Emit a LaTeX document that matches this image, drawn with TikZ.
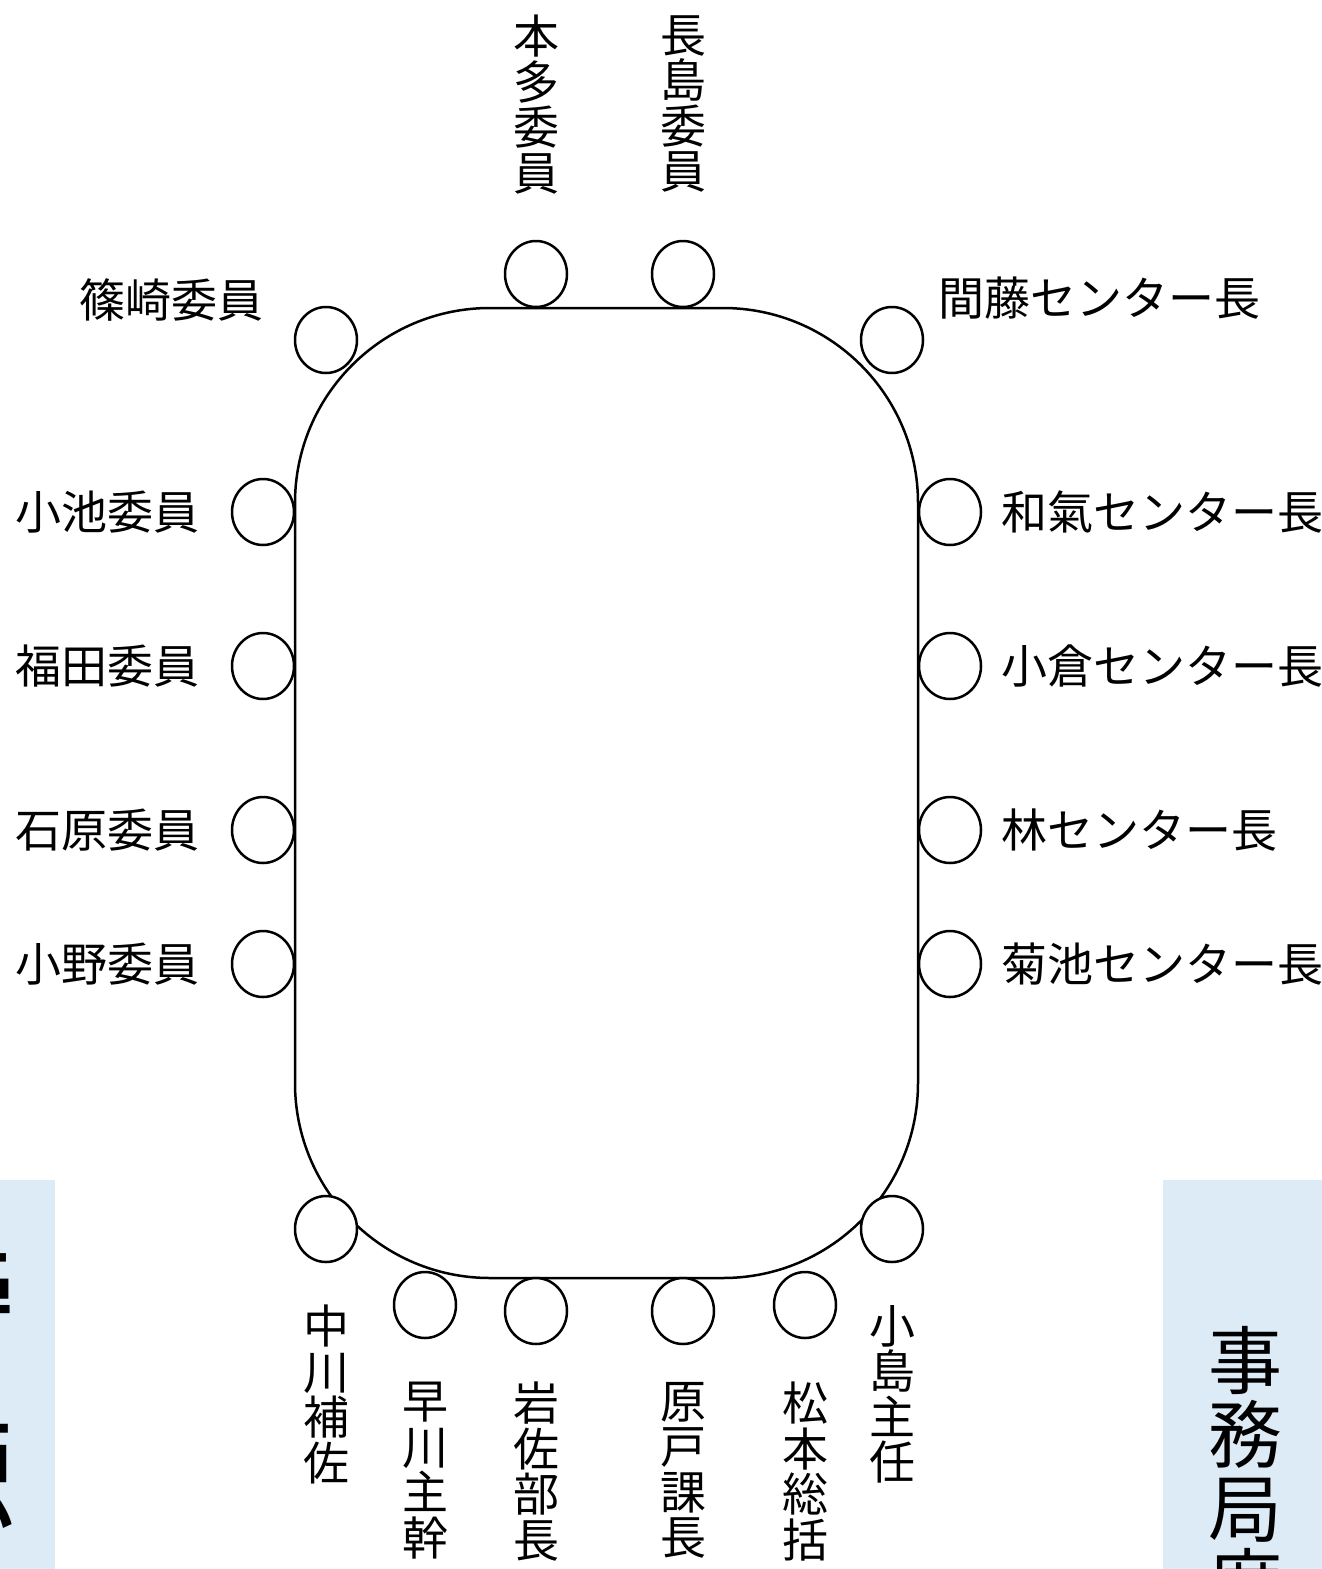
\documentclass[tikz,border=0pt]{standalone}
\usepackage{fontspec}
\usetikzlibrary{shapes.geometric}
\newfontfamily\jp{Noto Sans CJK JP}
\definecolor{boxblue}{HTML}{DDEBF7}
\tikzset{
  seat/.style={draw, fill=white, line width=2.5pt, ellipse, minimum width=62pt, minimum height=66pt, inner sep=0pt},
  lbl/.style={font=\jp\fontsize{46}{45.5}\selectfont, inner sep=0pt},
  vlbl/.style={lbl, align=center, anchor=north},
  tablebox/.style={draw, line width=2.5pt, rounded corners=195pt}
}
\begin{document}
\begin{tikzpicture}[x=1pt,y=-1pt]
\useasboundingbox (0,0) rectangle (1322,1569);
% side boxes
\fill[boxblue] (0,1180) rectangle (55,1569);
\fill[boxblue] (1163,1180) rectangle (1322,1569);
\begin{scope}
\clip (0,1180) rectangle (55,1569);
\node[font=\jp\fontsize{135}{170}\selectfont, align=center, anchor=north, inner sep=0pt] (lefttext) at (-52,1240) {傍\\聴\\席};
\end{scope}
\node[font=\jp\fontsize{74}{74}\selectfont, align=center, anchor=north, inner sep=0pt] (jimu) at (1245,1326) {事\\務\\局\\席};
% table
\draw[tablebox] (295,308) rectangle (918,1278);
% seats
\node[seat] (honda) at (536,274) {};
\node[seat] (nagashima) at (683,274) {};
\node[seat] (shinozaki) at (326,340) {};
\node[seat] (mato) at (892,340) {};
\node[seat] (koike) at (263,512) {};
\node[seat] (fukuda) at (263,666) {};
\node[seat] (ishihara) at (263,830) {};
\node[seat] (ono) at (263,964) {};
\node[seat] (wake) at (950,512) {};
\node[seat] (ogura) at (950,666) {};
\node[seat] (hayashi) at (950,830) {};
\node[seat] (kikuchi) at (950,964) {};
\node[seat] (nakagawa) at (326,1229) {};
\node[seat] (hayakawa) at (425,1305) {};
\node[seat] (iwasa) at (536,1311) {};
\node[seat] (harado) at (683,1311) {};
\node[seat] (matsumoto) at (805,1305) {};
\node[seat] (kojima) at (892,1229) {};
% top vertical labels
\node[vlbl] (lhonda) at (536,15) {本\\多\\委\\員};
\node[vlbl] (lnagashima) at (683,15) {長\\島\\委\\員};
% left labels
\node[lbl, anchor=east] (lshinozaki) at (264,300) {篠崎委員};
\node[lbl, anchor=east] (lkoike) at (200,512) {小池委員};
\node[lbl, anchor=east] (lfukuda) at (200,666) {福田委員};
\node[lbl, anchor=east] (lishihara) at (200,830) {石原委員};
\node[lbl, anchor=east] (lono) at (200,964) {小野委員};
% right labels
\node[lbl, anchor=west] (lmato) at (938,298) {間藤センター長};
\node[lbl, anchor=west] (lwake) at (1001,512) {和氣センター長};
\node[lbl, anchor=west] (logura) at (1001,666) {小倉センター長};
\node[lbl, anchor=west] (lhayashi) at (1001,830) {林センター長};
\node[lbl, anchor=west] (lkikuchi) at (1001,964) {菊池センター長};
% bottom vertical labels
\node[vlbl] (lnakagawa) at (326,1305) {中\\川\\補\\佐};
\node[vlbl] (lhayakawa) at (425,1382) {早\\川\\主\\幹};
\node[vlbl] (liwasa) at (536,1382) {岩\\佐\\部\\長};
\node[vlbl] (lharado) at (683,1382) {原\\戸\\課\\長};
\node[vlbl] (lmatsumoto) at (805,1382) {松\\本\\総\\括};
\node[vlbl] (lkojima) at (892,1305) {小\\島\\主\\任};
\end{tikzpicture}
\end{document}
